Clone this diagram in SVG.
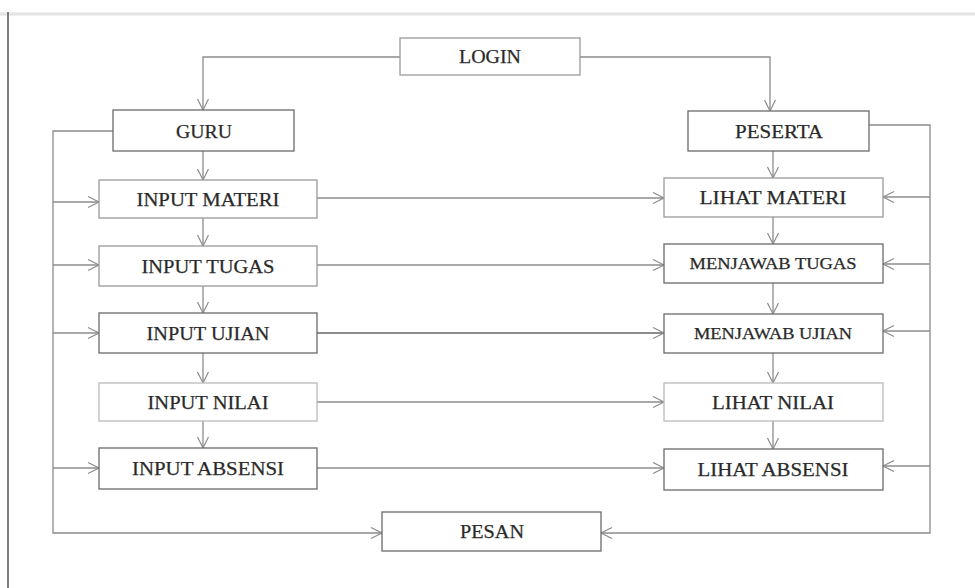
<svg xmlns="http://www.w3.org/2000/svg" width="975" height="588" viewBox="0 0 975 588">
<style>
.box{fill:#fff;stroke:#6a6a6a;stroke-width:1.3}
.lt{stroke:#9a9a9a}
.t{font-family:"Liberation Serif","Times New Roman",serif;font-size:19.5px;fill:#2a2a2a;stroke:#2a2a2a;stroke-width:0.25;text-anchor:middle}
.s{font-size:16px}
.c{fill:none;stroke:#8c8c8c;stroke-width:1.3}
</style>
<defs>
<marker id="a" markerUnits="userSpaceOnUse" markerWidth="14" markerHeight="14" refX="12" refY="6" orient="auto">
<path d="M1,0.5 L12,6 L1,11.5" fill="none" stroke="#8c8c8c" stroke-width="1.2"/>
</marker>
</defs>
<rect width="975" height="588" fill="#fff"/>
<line x1="0" y1="14" x2="975" y2="14" stroke="#e4e4e4" stroke-width="3"/>
<line x1="8" y1="12" x2="8" y2="588" stroke="#555" stroke-width="1.5"/>
<g id="connectors">
<path class="c" d="M400,57 H203 V110" marker-end="url(#a)"/>
<path class="c" d="M580,57 H770 V111" marker-end="url(#a)"/>
<path class="c" d="M203,151 V180" marker-end="url(#a)"/>
<path class="c" d="M203,218 V246" marker-end="url(#a)"/>
<path class="c" d="M203,286 V313" marker-end="url(#a)"/>
<path class="c" d="M203,353 V383" marker-end="url(#a)"/>
<path class="c" d="M203,421 V448" marker-end="url(#a)"/>
<path class="c" d="M773,151 V178" marker-end="url(#a)"/>
<path class="c" d="M773,217 V244" marker-end="url(#a)"/>
<path class="c" d="M773,283 V314" marker-end="url(#a)"/>
<path class="c" d="M773,353 V383" marker-end="url(#a)"/>
<path class="c" d="M773,421 V449" marker-end="url(#a)"/>
<path class="c" d="M317,198 H664" marker-end="url(#a)"/>
<path class="c" d="M317,265 H664" marker-end="url(#a)"/>
<path class="c" d="M317,333 H664" marker-end="url(#a)" style="stroke:#666"/>
<path class="c" d="M317,402 H664" marker-end="url(#a)"/>
<path class="c" d="M317,468 H664" marker-end="url(#a)"/>
<path class="c" d="M113,131 H53 V533 H382" marker-end="url(#a)"/>
<path class="c" d="M53,202 H99" marker-end="url(#a)"/>
<path class="c" d="M53,265 H99" marker-end="url(#a)"/>
<path class="c" d="M53,333 H99" marker-end="url(#a)"/>
<path class="c" d="M53,468 H99" marker-end="url(#a)"/>
<path class="c" d="M869,125 H930 V533 H601" marker-end="url(#a)"/>
<path class="c" d="M930,197 H883" marker-end="url(#a)"/>
<path class="c" d="M930,264 H883" marker-end="url(#a)"/>
<path class="c" d="M930,331 H883" marker-end="url(#a)"/>
<path class="c" d="M930,466 H883" marker-end="url(#a)"/>
</g>
<g id="login"><rect class="box lt" x="400" y="38" width="180" height="37"/><text class="t" x="490" y="63" textLength="62" lengthAdjust="spacingAndGlyphs">LOGIN</text></g>
<g id="guru"><rect class="box" x="113" y="110" width="181" height="41"/><text class="t" x="204" y="138" textLength="56" lengthAdjust="spacingAndGlyphs">GURU</text></g>
<g id="peserta"><rect class="box" x="688" y="111" width="181" height="40"/><text class="t" x="779" y="138" textLength="88" lengthAdjust="spacingAndGlyphs">PESERTA</text></g>
<g id="input-materi"><rect class="box lt" x="99" y="180" width="218" height="38"/><text class="t" x="208" y="206" textLength="143" lengthAdjust="spacingAndGlyphs">INPUT MATERI</text></g>
<g id="input-tugas"><rect class="box lt" x="99" y="246" width="218" height="40"/><text class="t" x="208" y="273" textLength="133" lengthAdjust="spacingAndGlyphs">INPUT TUGAS</text></g>
<g id="input-ujian"><rect class="box" x="99" y="313" width="218" height="40"/><text class="t" x="208" y="340" textLength="123" lengthAdjust="spacingAndGlyphs">INPUT UJIAN</text></g>
<g id="input-nilai"><rect class="box lt" x="99" y="383" width="218" height="38" style="stroke:#bbb"/><text class="t" x="208" y="409" textLength="121" lengthAdjust="spacingAndGlyphs">INPUT NILAI</text></g>
<g id="input-absensi"><rect class="box" x="99" y="448" width="218" height="41"/><text class="t" x="208" y="475" textLength="152" lengthAdjust="spacingAndGlyphs">INPUT ABSENSI</text></g>
<g id="lihat-materi"><rect class="box lt" x="664" y="178" width="219" height="39"/><text class="t" x="773" y="204" textLength="147" lengthAdjust="spacingAndGlyphs">LIHAT MATERI</text></g>
<g id="menjawab-tugas"><rect class="box" x="664" y="244" width="219" height="39"/><text class="t s" x="773" y="269" textLength="167" lengthAdjust="spacingAndGlyphs">MENJAWAB TUGAS</text></g>
<g id="menjawab-ujian"><rect class="box" x="664" y="314" width="219" height="39"/><text class="t s" x="773" y="339" textLength="158" lengthAdjust="spacingAndGlyphs">MENJAWAB UJIAN</text></g>
<g id="lihat-nilai"><rect class="box lt" x="664" y="383" width="219" height="38" style="stroke:#bbb"/><text class="t" x="773" y="409" textLength="122" lengthAdjust="spacingAndGlyphs">LIHAT NILAI</text></g>
<g id="lihat-absensi"><rect class="box" x="664" y="449" width="219" height="41"/><text class="t" x="773" y="476" textLength="151" lengthAdjust="spacingAndGlyphs">LIHAT ABSENSI</text></g>
<g id="pesan"><rect class="box" x="382" y="512" width="219" height="39"/><text class="t" x="492" y="538" textLength="64" lengthAdjust="spacingAndGlyphs">PESAN</text></g>
</svg>
